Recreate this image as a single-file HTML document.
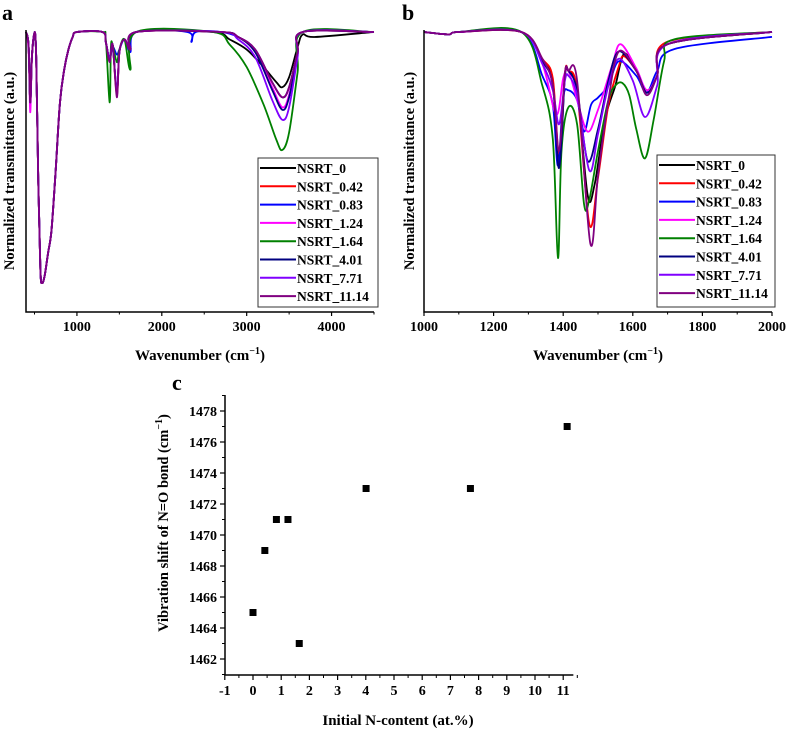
<!DOCTYPE html>
<html><head><meta charset="utf-8">
<style>
html,body{margin:0;padding:0;background:#fff;}
svg{display:block;}
svg text{font-family:"Liberation Serif",serif;font-weight:700;}
</style></head>
<body>
<svg id="fig" width="789" height="730" viewBox="0 0 789 730" xmlns="http://www.w3.org/2000/svg"></svg>
<script>
// ---------- Data ----------
const seriesNames = ["NSRT_0","NSRT_0.42","NSRT_0.83","NSRT_1.24","NSRT_1.64","NSRT_4.01","NSRT_7.71","NSRT_11.14"];
const seriesColors = ["#000000","#ff0000","#0000ff","#ff00ff","#008000","#000080","#8000ff","#800080"];

// Panel a: [wavenumber, transmittance 0-100]
const aLow = [[400,100],[430,95],[450,72],[470,90],[500,100],[520,90],[545,40],[570,5],[590,0],[620,3],[660,12],[700,21],[750,45],[800,72],[850,85],[900,93],[950,98],[1000,100],[1300,100]];
const aLowMag = [[400,100],[430,93],[450,68],[470,90],[500,100],[520,90],[545,40],[570,5],[590,0],[620,3],[660,12],[700,21],[750,45],[800,72],[850,85],[900,93],[950,98],[1000,100],[1300,100]];
const aBlack  = [[1340,96],[1385,89],[1420,95],[1470,76],[1500,92],[1560,97],[1630,93],[1700,100],[2600,100],[2800,97],[3000,93],[3200,86],[3350,80],[3420,78],[3500,82],[3600,94],[3660,99],[3800,98],[4500,100]];
const aRed    = [[1340,96],[1385,89],[1420,95],[1470,75],[1500,92],[1560,97],[1630,93],[1700,100],[2700,100],[2900,98],[3100,93],[3300,80],[3420,74],[3500,78],[3600,92],[3660,100],[4500,100]];
const aBlue   = [[1340,96],[1385,89],[1420,94],[1470,91],[1500,93],[1560,97],[1630,92],[1700,100],[2300,100],[2350,96],[2400,100],[2700,100],[2900,98],[3100,93],[3300,80],[3420,74],[3500,78],[3600,92],[3660,100],[4500,100]];
const aMag    = [[1340,96],[1385,89],[1420,95],[1470,76],[1500,92],[1560,97],[1630,93],[1700,100],[2700,100],[2900,98],[3100,92],[3300,78],[3420,70],[3500,75],[3600,91],[3660,100],[4500,100]];
const aGreen  = [[1340,97],[1385,72],[1400,94],[1420,95],[1470,88],[1500,93],[1560,97],[1630,85],[1700,100],[2600,100],[2800,95],[3000,86],[3200,71],[3350,57],[3420,53],[3500,60],[3600,84],[3660,100],[4500,100]];
const aNavy   = [[1340,96],[1385,89],[1420,95],[1470,76],[1500,92],[1560,97],[1630,93],[1700,100],[2700,100],[2900,98],[3100,92],[3300,77],[3420,69],[3500,74],[3600,91],[3660,100],[4500,100]];
const aViolet = [[1340,96],[1385,89],[1420,95],[1470,76],[1500,92],[1560,97],[1630,93],[1700,100],[2700,100],[2900,97],[3100,90],[3300,73],[3420,65],[3500,70],[3600,90],[3660,100],[4500,100]];
const aPurple = [[1340,96],[1385,88],[1420,95],[1470,74],[1500,92],[1560,97],[1630,93],[1700,100],[2700,100],[2900,98],[3100,93],[3300,80],[3420,74],[3500,78],[3600,92],[3660,100],[4500,100]];
const aSeries = [aLow.concat(aBlack),aLow.concat(aRed),aLow.concat(aBlue),aLowMag.concat(aMag),aLow.concat(aGreen),aLow.concat(aNavy),aLow.concat(aViolet),aLow.concat(aPurple)];
const aTicks = [1000,2000,3000,4000];

// Panel b: [wavenumber, transmittance 0-100]
const bBlack  = [[1000,100],[1070,99],[1100,100],[1280,100],[1340,88],[1370,80],[1388,45],[1405,82],[1415,84],[1440,76],[1470,33],[1490,37],[1520,64],[1550,78],[1575,91],[1610,84],[1640,76],[1670,82],[1700,95],[2000,100]];
const bRed    = [[1000,100],[1070,99],[1100,100],[1280,100],[1340,89],[1370,81],[1388,50],[1405,83],[1415,84],[1440,76],[1475,21],[1500,40],[1530,70],[1560,86],[1575,90],[1610,84],[1640,76],[1670,82],[1700,96],[2000,100]];
const bBlue   = [[1000,100],[1070,99],[1100,100],[1280,100],[1340,82],[1370,70],[1385,45],[1400,73],[1415,76],[1440,72],[1460,59],[1480,70],[1500,73],[1530,78],[1560,88],[1610,82],[1640,75],[1670,84],[1720,93],[2000,98]];
const bMag    = [[1000,100],[1070,99],[1100,100],[1280,100],[1340,87],[1380,66],[1400,81],[1415,84],[1440,72],[1470,59],[1500,68],[1540,86],[1565,95],[1610,85],[1640,76],[1670,82],[1700,95],[2000,100]];
const bGreen  = [[1000,100],[1070,99],[1100,100],[1280,100],[1340,78],[1370,56],[1385,7],[1395,51],[1415,69],[1440,62],[1460,29],[1475,31],[1500,51],[1530,72],[1550,78],[1570,79],[1590,74],[1610,60],[1635,48],[1660,64],[1690,88],[1720,97],[2000,100]];
const bNavy   = [[1000,100],[1070,99],[1100,100],[1280,100],[1340,88],[1370,78],[1388,44],[1405,82],[1415,84],[1440,76],[1470,47],[1500,60],[1530,80],[1560,92],[1610,84],[1640,75],[1670,82],[1700,95],[2000,100]];
const bViolet = [[1000,100],[1070,99],[1100,100],[1280,100],[1340,87],[1370,76],[1388,62],[1405,80],[1415,82],[1440,74],[1475,43],[1500,58],[1530,78],[1560,89],[1600,80],[1635,65],[1670,78],[1700,95],[2000,100]];
const bPurple = [[1000,100],[1070,99],[1100,100],[1280,100],[1340,89],[1370,78],[1388,51],[1405,83],[1415,84],[1440,80],[1478,13],[1500,41],[1530,72],[1560,92],[1610,84],[1640,74],[1670,82],[1700,95],[2000,100]];
const bSeries = [bBlack,bRed,bBlue,bMag,bGreen,bNavy,bViolet,bPurple];
const bTicks = [1000,1200,1400,1600,1800,2000];

// Panel c
const cX = [0,0.42,0.83,1.24,1.64,4.01,7.71,11.14];
const cY = [1465,1469,1471,1471,1463,1473,1473,1477];
const cXTicks = [-1,0,1,2,3,4,5,6,7,8,9,10,11];
const cYTicks = [1462,1464,1466,1468,1470,1472,1474,1476,1478];

// ---------- Helpers ----------
const NS="http://www.w3.org/2000/svg";
const svg=document.getElementById('fig');
function el(tag,attrs,parent){const e=document.createElementNS(NS,tag);for(const k in attrs)e.setAttribute(k,attrs[k]);(parent||svg).appendChild(e);return e;}
function txt(s,attrs,parent){const t=el('text',attrs,parent);t.setAttribute('font-weight','bold');t.textContent=s;return t;}
function smoothPath(pts){
  let d=`M${pts[0][0].toFixed(1)},${pts[0][1].toFixed(1)}`;
  for(let i=0;i<pts.length-1;i++){
    const p0=pts[i-1]||pts[i],p1=pts[i],p2=pts[i+1],p3=pts[i+2]||p2;
    const c1x=p1[0]+(p2[0]-p0[0])/6,c1y=p1[1]+(p2[1]-p0[1])/6;
    const c2x=p2[0]-(p3[0]-p1[0])/6,c2y=p2[1]-(p3[1]-p1[1])/6;
    d+=` C${c1x.toFixed(1)},${c1y.toFixed(1)} ${c2x.toFixed(1)},${c2y.toFixed(1)} ${p2[0].toFixed(1)},${p2[1].toFixed(1)}`;
  }
  return d;
}

function spectrumPanel(cfg){
  const g=el('g',{});
  
  
  const xs=v=>cfg.x0+(v-cfg.xmin)/(cfg.xmax-cfg.xmin)*(cfg.x1-cfg.x0);
  const ys=v=>cfg.yB-(v/100)*(cfg.yB-cfg.yT);
  const lt=txt(cfg.letter,{x:cfg.letterX,y:20,'font-size':22,fill:'#000'},g);
  
  
  const lines=el('g',{fill:'none','stroke-width':1.8,'stroke-linejoin':'round'},g);
  
  
  cfg.series.forEach((s,i)=>{
    const pts=s.map(p=>[xs(p[0]),ys(p[1])]);
    const p=el('path',{d:smoothPath(pts),stroke:seriesColors[i]},lines);
    
    
  });
  const ax=el('path',{d:`M${cfg.x0},${cfg.yAxTop} V${cfg.yAx} H${cfg.x1}`,stroke:'#000','stroke-width':1.5,fill:'none'},g);
  
  
  cfg.ticks.forEach(t=>{
    const x=xs(t);
    el('line',{x1:x,x2:x,y1:cfg.yAx,y2:cfg.yAx+4,stroke:'#000','stroke-width':1.2},g);
    const tl=txt(String(t),{x:x,y:cfg.yAx+19,'font-size':14,'text-anchor':'middle'},g);
    
    
  });
  cfg.minor.forEach(t=>{const x=xs(t);el('line',{x1:x,x2:x,y1:cfg.yAx,y2:cfg.yAx+2.5,stroke:'#000','stroke-width':1},g);});
  const xt=txt('',{x:(cfg.x0+cfg.x1)/2,y:360,'font-size':15,'text-anchor':'middle'},g);
  xt.innerHTML='Wavenumber (cm<tspan dy="-6" font-size="10">−1</tspan><tspan dy="6">)</tspan>';
  
  
  const yt=txt('Normalized transmittance (a.u.)',{transform:`translate(${cfg.yTitleX},${(cfg.yAxTop+cfg.yAx)/2}) rotate(-90)`,'font-size':14.5,'text-anchor':'middle'},g);
  
  
  const lg=el('g',{},g);
  
  
  el('rect',{x:cfg.lx,y:cfg.ly,width:cfg.lw,height:cfg.lh,fill:'#fff',stroke:'#333','stroke-width':1},lg);
  seriesNames.forEach((n,i)=>{
    const y=cfg.ly+10+i*18.3;
    const e=el('g',{},lg);
    
    
    el('line',{x1:cfg.lx+2,x2:cfg.lx+38,y1:y,y2:y,stroke:seriesColors[i],'stroke-width':2},e);
    txt(n,{x:cfg.lx+39,y:y+5,'font-size':13.5},e);
  });
}

spectrumPanel({name:'panel-a',letter:'a',letterX:2,x0:26,x1:374,xmin:400,xmax:4500,yT:32,yB:283,yAxTop:30,yAx:312,
  ticks:aTicks,minor:[500,1500,2500,3500,4500],series:aSeries,yTitleX:14,lx:258,ly:158,lw:120,lh:149});
spectrumPanel({name:'panel-b',letter:'b',letterX:402,x0:424,x1:772,xmin:1000,xmax:2000,yT:32,yB:275,yAxTop:30,yAx:312,
  ticks:bTicks,minor:[1100,1300,1500,1700,1900],series:bSeries,yTitleX:414,lx:657,ly:155,lw:118,lh:152});

// Panel c
(function(){
  const g=el('g',{});
  
  
  const x0=225,yAx=675,yTop=395;
  const xs=v=>253+v*28.2;
  const ys=v=>659-(v-1462)*15.5;
  const lt=txt('c',{x:172,y:390,'font-size':22},g);
  
  
  const ax=el('path',{d:`M${x0},${yTop} V${yAx} H${xs(11.36)}`,stroke:'#000','stroke-width':1.5,fill:'none'},g);
  
  
  cXTicks.forEach(t=>{
    const x=xs(t);
    el('line',{x1:x,x2:x,y1:yAx,y2:yAx+5,stroke:'#000','stroke-width':1.2},g);
    el('line',{x1:x+14.1,x2:x+14.1,y1:yAx,y2:yAx+3,stroke:'#000','stroke-width':1},g);
    const tl=txt(String(t),{x:x,y:yAx+20,'font-size':14,'text-anchor':'middle'},g);
    
    
  });
  cYTicks.forEach(t=>{
    const y=ys(t);
    el('line',{x1:x0-5,x2:x0,y1:y,y2:y,stroke:'#000','stroke-width':1.2},g);
    el('line',{x1:x0-3,x2:x0,y1:y+15.5,y2:y+15.5,stroke:'#000','stroke-width':1},g);
    const tl=txt(String(t),{x:x0-8,y:y+5,'font-size':14,'text-anchor':'end'},g);
    
    
  });
  el('line',{x1:x0-3,x2:x0,y1:ys(1479),y2:ys(1479),stroke:'#000','stroke-width':1},g);
  cX.forEach((v,i)=>{
    const r=el('rect',{x:xs(v)-3.5,y:ys(cY[i])-3.5,width:7,height:7,fill:'#000'},g);
    
    
  });
  const xt=txt('Initial N-content (at.%)',{x:398,y:725,'font-size':15,'text-anchor':'middle'},g);
  
  
  const yt=txt('',{transform:`translate(168,523) rotate(-90)`,'font-size':14.5,'text-anchor':'middle'},g);
  yt.innerHTML='Vibration shift of N=O bond  (cm<tspan dy="-6" font-size="10">−1</tspan><tspan dy="6">)</tspan>';
  
  
})();
</script>
</body></html>
